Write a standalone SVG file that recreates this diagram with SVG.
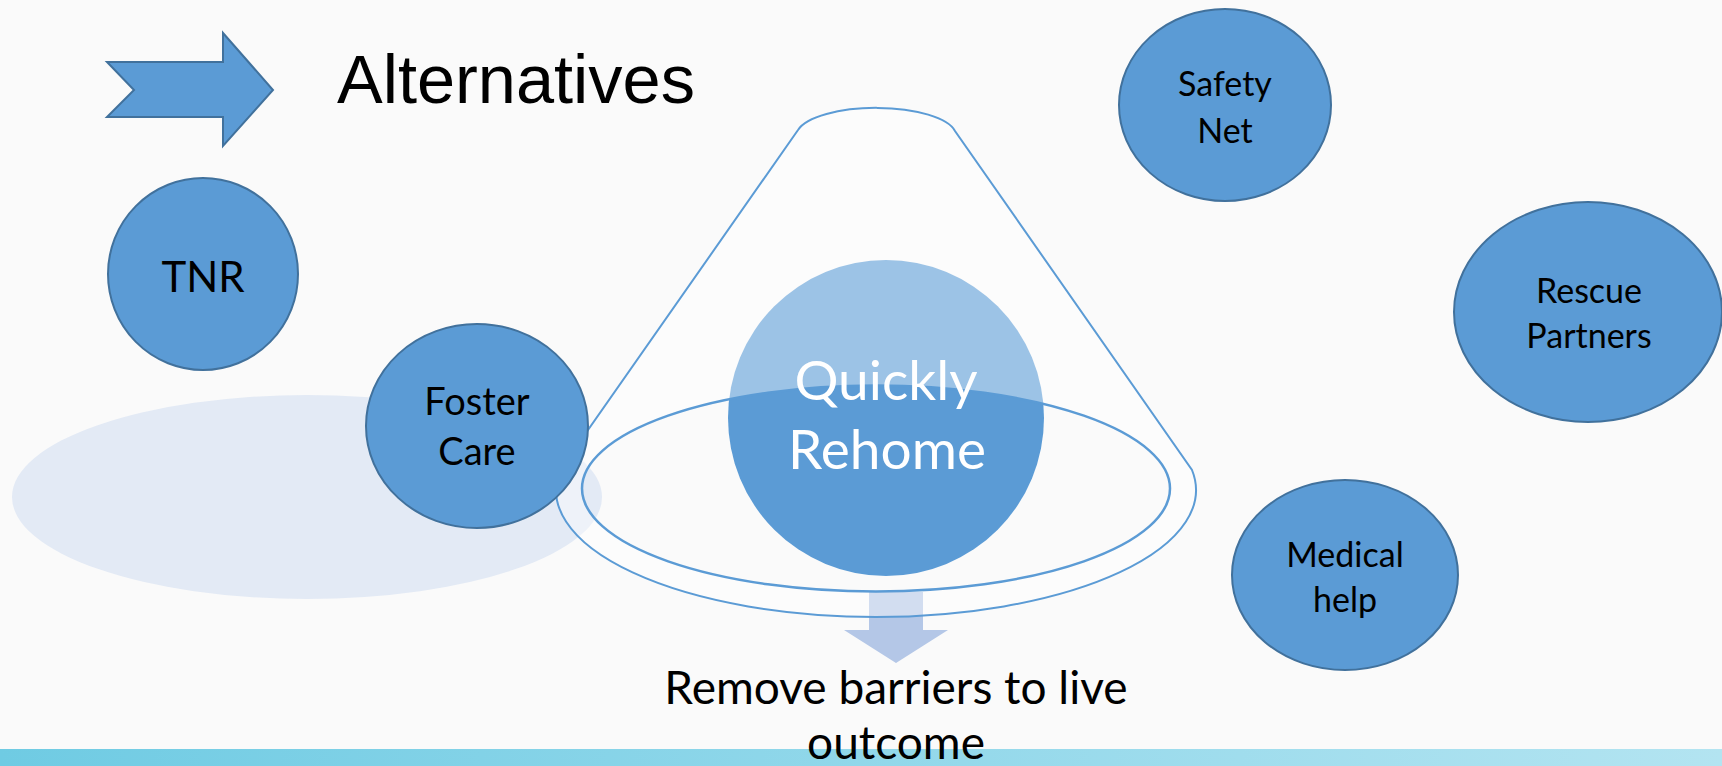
<svg xmlns="http://www.w3.org/2000/svg" width="1722" height="766" viewBox="0 0 1722 766">
<defs>
<style>
.node{fill:#5b9bd5;stroke:#41719c;stroke-width:2}
.lbl{font-family:Lato,"Open Sans","Liberation Sans",sans-serif;fill:#000;text-anchor:middle}
.wlbl{font-family:Lato,"Open Sans","Liberation Sans",sans-serif;fill:#fff;text-anchor:middle}
.cone{fill:none;stroke:#5b9bd5;stroke-width:2}
</style>
<linearGradient id="band" x1="0" y1="0" x2="1" y2="0">
<stop offset="0" stop-color="#6fcbe3"/>
<stop offset="1" stop-color="#b3e4f1"/>
</linearGradient>
</defs>
<rect width="1722" height="766" fill="#fafafa"/>
<rect y="749" width="1722" height="17" fill="url(#band)"/>

<ellipse id="reflection" cx="307" cy="497" rx="295" ry="102" fill="#e3eaf5"/>

<g id="connectors">
<polygon points="869,592 923,592 923,630 948,630 896,663 844,630 869,630" fill="#b4c7e7"/>
</g>

<g id="quickly-rehome">
<circle cx="886" cy="418" r="158" fill="#5b9bd5"/>
<path d="M798 130 L560 470 A320 127 0 1 0 1192 470 L955 131 A80 28 0 0 0 798 130 Z M582 488.5 A294 103 0 1 0 1170 488.5 A294 103 0 1 0 582 488.5 Z" fill="#fff" fill-opacity="0.4" fill-rule="evenodd"/>
<path class="cone" d="M798 130 L560 470 A320 127 0 1 0 1192 470 L955 131 A80 28 0 0 0 798 130 Z"/>
<ellipse cx="876" cy="488.5" rx="294" ry="103" fill="none" stroke="#5b9bd5" stroke-width="2.5"/>
<text class="wlbl" x="886" y="400" font-size="55">Quickly</text>
<text class="wlbl" x="887" y="469" font-size="55">Rehome</text>
</g>

<g id="alternatives-arrow">
<polygon points="107,62 223,62 223,33 273,90 223,146 223,117 107,117 134,90" class="node"/>
</g>
<text id="title" x="337" y="103" font-family="'Liberation Sans',Arial,sans-serif" font-size="68.5" fill="#000">Alternatives</text>

<g id="tnr">
<ellipse class="node" cx="203" cy="274" rx="95" ry="96"/>
<text class="lbl" x="203" y="292" font-size="42">TNR</text>
</g>

<g id="foster-care">
<ellipse class="node" cx="477" cy="426" rx="111" ry="102"/>
<text class="lbl" x="477" y="415" font-size="38">Foster</text>
<text class="lbl" x="477" y="465" font-size="38">Care</text>
</g>

<g id="safety-net">
<ellipse class="node" cx="1225" cy="105" rx="106" ry="96"/>
<text class="lbl" x="1225" y="96" font-size="34">Safety</text>
<text class="lbl" x="1225" y="143" font-size="34">Net</text>
</g>

<g id="rescue-partners">
<ellipse class="node" cx="1588" cy="312" rx="134" ry="110"/>
<text class="lbl" x="1589" y="303" font-size="34">Rescue</text>
<text class="lbl" x="1589" y="348" font-size="34">Partners</text>
</g>

<g id="medical-help">
<ellipse class="node" cx="1345" cy="575" rx="113" ry="95"/>
<text class="lbl" x="1345" y="567" font-size="34">Medical</text>
<text class="lbl" x="1345" y="612" font-size="34">help</text>
</g>

<g id="outcome">
<text class="lbl" x="896" y="704" font-size="46">Remove barriers to live</text>
<text class="lbl" x="896" y="759" font-size="46">outcome</text>
</g>
</svg>
